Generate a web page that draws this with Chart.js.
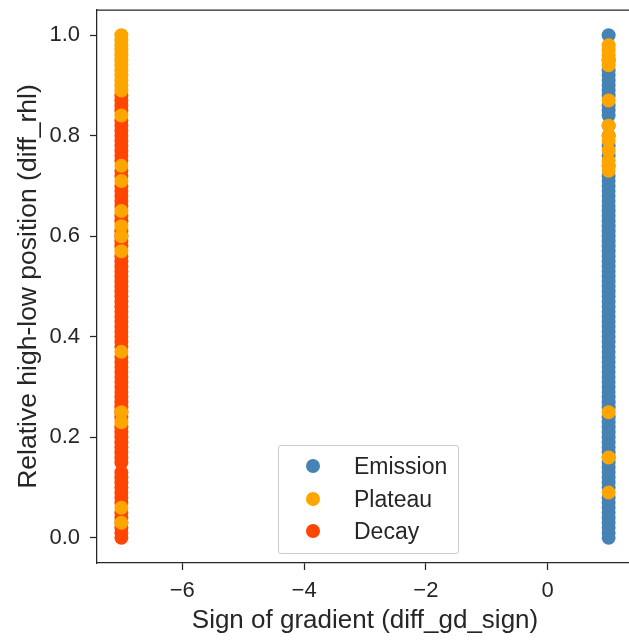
<!DOCTYPE html>
<html>
<head>
<meta charset="utf-8">
<script src="https://cdn.jsdelivr.net/npm/chart.js@4/dist/chart.umd.min.js"></script>
<style>
  html, body { margin: 0; padding: 0; background: #fff; overflow: hidden; }
  #wrap { position: relative; width: 640px; height: 642px; }
  #legend {
    position: absolute; left: 278px; top: 445px; width: 179px; height: 107px;
    border: 1px solid #cccccc; border-radius: 3px; background: rgba(255,255,255,0.8);
    font-family: "Liberation Sans", Arial, sans-serif; font-size: 23px; color: #262626;
  }
  .row { position: absolute; left: 0; height: 24px; line-height: 24px; }
  .dot { position: absolute; left: 27px; top: 5px; width: 14px; height: 14px; border-radius: 50%; }
  .lbl { position: absolute; left: 75px; top: 0; white-space: nowrap; }
</style>
</head>
<body>
<div id="wrap">
  <canvas id="chart" width="640" height="642"></canvas>
  <div id="legend"></div>
</div>
<script>
// categories
var seriesNames = ["Emission", "Plateau", "Decay"];
var seriesColors = ["#4682b4", "#ffa500", "#ff4500"];

// x value of each series (diff_gd_sign)
var emissionX = 1;
var decayX = -7;
var plateauLeftX = -7;
var plateauRightX = 1;

// y values (diff_rhl)
var emissionY = [0.0, 0.01, 0.02, 0.03, 0.04, 0.05, 0.06, 0.07, 0.08, 0.1, 0.11, 0.12,
  0.13, 0.14, 0.15, 0.16, 0.17, 0.18, 0.19, 0.2, 0.21, 0.22, 0.23, 0.24, 0.26, 0.27,
  0.28, 0.29, 0.3, 0.31, 0.32, 0.33, 0.34, 0.35, 0.36, 0.37, 0.38, 0.39, 0.4, 0.41,
  0.42, 0.43, 0.44, 0.45, 0.46, 0.47, 0.48, 0.49, 0.5, 0.51, 0.52, 0.53, 0.54, 0.55,
  0.56, 0.57, 0.58, 0.59, 0.6, 0.61, 0.62, 0.63, 0.64, 0.65, 0.66, 0.67, 0.68, 0.69,
  0.7, 0.71, 0.72, 0.74, 0.76, 0.78, 0.8, 0.82, 0.84, 0.85, 0.86, 0.88, 0.89, 0.9,
  0.91, 0.92, 0.93, 0.95, 1.0];
var plateauRightY = [0.98, 0.97, 0.96, 0.95, 0.94, 0.87, 0.82, 0.8, 0.79, 0.77, 0.75,
  0.74, 0.73, 0.25, 0.16, 0.09];
var plateauLeftY = [1.0, 0.99, 0.98, 0.97, 0.96, 0.95, 0.94, 0.93, 0.92, 0.91, 0.9,
  0.89, 0.84, 0.74, 0.71, 0.65, 0.62, 0.6, 0.57, 0.37, 0.25, 0.23, 0.06, 0.03];
var decayY = [0.0, 0.01, 0.02, 0.03, 0.04, 0.05, 0.07, 0.08, 0.09, 0.1, 0.11, 0.12,
  0.13, 0.15, 0.16, 0.17, 0.18, 0.19, 0.2, 0.21, 0.22, 0.24, 0.25, 0.26, 0.27, 0.28,
  0.29, 0.3, 0.31, 0.32, 0.33, 0.34, 0.35, 0.36, 0.38, 0.39, 0.4, 0.41, 0.42, 0.43,
  0.44, 0.45, 0.46, 0.47, 0.48, 0.49, 0.5, 0.51, 0.52, 0.53, 0.54, 0.55, 0.56, 0.58,
  0.59, 0.6, 0.61, 0.63, 0.64, 0.66, 0.67, 0.68, 0.69, 0.7, 0.72, 0.73, 0.75, 0.76,
  0.77, 0.78, 0.79, 0.8, 0.81, 0.82, 0.83, 0.85, 0.86, 0.87, 0.88];

// tick labels
var xTicks = [-6, -4, -2, 0];
var yTicks = [0.0, 0.2, 0.4, 0.6, 0.8, 1.0];

function pts(x, ys) {
  return ys.map(function (y) { return { x: x, y: y }; });
}

var font = "'Liberation Sans', Arial, sans-serif";
var ink = "#262626";

var topSpine = {
  id: "topSpine",
  afterDraw: function (chart) {
    var a = chart.chartArea, c = chart.ctx;
    c.save();
    c.strokeStyle = ink;
    c.lineWidth = 1.25;
    c.beginPath();
    c.moveTo(a.left, a.top);
    c.lineTo(a.right, a.top);
    c.lineTo(a.right, a.bottom);
    c.stroke();
    c.restore();
  }
};

var chart = new Chart(document.getElementById("chart").getContext("2d"), {
  type: "scatter",
  data: {
    datasets: [
      { label: seriesNames[0], data: pts(emissionX, emissionY), backgroundColor: seriesColors[0], order: 3 },
      { label: seriesNames[2], data: pts(decayX, decayY), backgroundColor: seriesColors[2], order: 2 },
      { label: seriesNames[1], data: pts(plateauLeftX, plateauLeftY).concat(pts(plateauRightX, plateauRightY)), backgroundColor: seriesColors[1], order: 1 }
    ]
  },
  options: {
    responsive: false,
    animation: false,
    layout: { padding: { top: 10, right: 2, left: 0, bottom: 0 } },
    elements: { point: { radius: 7, borderWidth: 0, hoverRadius: 7 } },
    plugins: { legend: { display: false }, tooltip: { enabled: false } },
    scales: {
      x: {
        type: "linear", min: -7.4, max: 1.4,
        afterBuildTicks: function (s) { s.ticks = xTicks.map(function (v) { return { value: v }; }); },
        afterFit: function (s) { s.height = 79; s.paddingLeft = 0; s.paddingRight = 0; },
        grid: { drawOnChartArea: false, drawTicks: true, tickLength: 7, tickWidth: 1.25, tickColor: ink },
        border: { display: true, color: ink, width: 1.25 },
        ticks: {
          padding: 8, color: ink, font: { family: font, size: 22 }, maxRotation: 0,
          callback: function (v) { return v < 0 ? "\u2212" + Math.abs(v) : String(v); }
        },
        title: { display: true, text: "Sign of gradient (diff_gd_sign)", color: ink,
          font: { family: font, size: 26 }, padding: { top: 2, bottom: 6 } }
      },
      y: {
        type: "linear", min: -0.05, max: 1.05,
        afterBuildTicks: function (s) { s.ticks = yTicks.map(function (v) { return { value: v }; }); },
        afterFit: function (s) { s.width = 97; s.paddingTop = 0; s.paddingBottom = 0; },
        grid: { drawOnChartArea: false, drawTicks: true, tickLength: 7, tickWidth: 1.25, tickColor: ink },
        border: { display: true, color: ink, width: 1.25 },
        ticks: {
          padding: 10, color: ink, font: { family: font, size: 22 },
          callback: function (v) { return v.toFixed(1); }
        },
        title: { display: true, text: "Relative high-low position (diff_rhl)", color: ink,
          font: { family: font, size: 26.5 }, padding: { top: 13, bottom: 0 } }
      }
    }
  },
  plugins: [topSpine]
});

// legend in the lower middle of the plot
var legendOrder = [0, 1, 2];
var legendRowTop = [8, 41, 73];
var box = document.getElementById("legend");
legendOrder.forEach(function (i, k) {
  var row = document.createElement("div");
  row.className = "row";
  row.style.top = legendRowTop[k] + "px";
  var dot = document.createElement("span");
  dot.className = "dot";
  dot.style.background = seriesColors[i];
  var lbl = document.createElement("span");
  lbl.className = "lbl";
  lbl.textContent = seriesNames[i];
  row.appendChild(dot);
  row.appendChild(lbl);
  box.appendChild(row);
});
</script>
</body>
</html>
